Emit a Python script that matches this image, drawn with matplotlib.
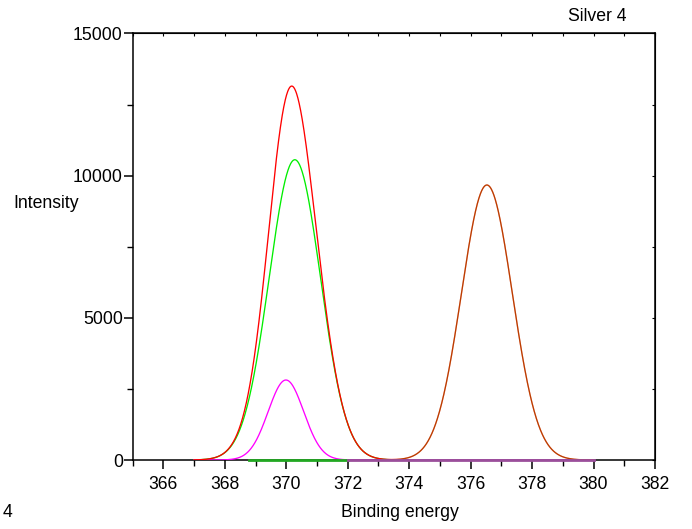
import numpy as np
import matplotlib
matplotlib.use("Agg")
import matplotlib.pyplot as plt
from matplotlib.ticker import MultipleLocator

plt.rcParams['font.family'] = ['Liberation Sans', 'DejaVu Sans']

# Fitted peak components
component_names = ["Ag 3d5/2 (main)", "Ag 3d5/2 (low BE)", "Ag 3d3/2"]
component_centers = [370.28, 369.99, 376.53]    # eV
component_heights = [10560, 2814, 9672]         # counts
component_fwhm = [1.97, 1.36, 1.95]             # eV
component_colors = ["#00ee00", "#ff00ff", "#00e600"]
energy_range = [367.0, 380.0]

x_ticks = [366, 368, 370, 372, 374, 376, 378, 380, 382]
y_ticks = [0, 5000, 10000, 15000]

energy = np.linspace(energy_range[0], energy_range[1], 1301)


def gauss(x, c, h, fwhm):
    s = fwhm / (2 * np.sqrt(2 * np.log(2)))
    return h * np.exp(-(x - c) ** 2 / (2 * s ** 2))


comps = [gauss(energy, c, h, w) for c, h, w in
         zip(component_centers, component_heights, component_fwhm)]
envelope = np.sum(comps, axis=0)

fig = plt.figure(figsize=(6.92, 5.29), dpi=100)
ax = fig.add_axes([0.1916, 0.1304, 0.9465 - 0.1916, 0.9367 - 0.1304])

lw = 0.95
# first-peak components
ax.plot(energy, comps[0], color=component_colors[0], lw=lw, zorder=4)
ax.plot(energy, comps[1], color=component_colors[1], lw=lw, zorder=4)
# envelope
ax.plot(energy, envelope, color="#ff0000", lw=lw, zorder=5)
# second-peak component overlapping envelope (mixes to brown-orange)
m3 = energy >= 373.0
ax.plot(energy[m3], comps[2][m3], color=component_colors[2], lw=lw, alpha=0.27, zorder=6)

# baselines
m1 = (energy >= 368.8) & (energy <= 372.0)
ax.plot(energy[m1], np.zeros(m1.sum()), color="#22a822", lw=2.0, clip_on=False, zorder=7)
m2 = (energy >= 372.0) & (energy <= 380.0)
ax.plot(energy[m2], np.zeros(m2.sum()), color="#9b4f9b", lw=2.0, clip_on=False, zorder=7)

ax.set_xlim(365, 382)
ax.set_ylim(0, 15000)
ax.set_xticks(x_ticks)
ax.set_yticks(y_ticks)
ax.xaxis.set_minor_locator(MultipleLocator(1))
ax.yaxis.set_minor_locator(MultipleLocator(2500))
ax.tick_params(axis='both', which='major', direction='out', length=6.5, width=1.1,
               labelsize=12.7, colors='black')
ax.tick_params(axis='both', which='minor', direction='out', length=4, width=1.0)
ax.tick_params(axis='x', which='major', pad=5)
ax.tick_params(axis='y', which='major', pad=0.5)
for s in ax.spines.values():
    s.set_linewidth(1.1)

secx = ax.secondary_xaxis('top')
secx.set_xticks(np.arange(365, 383, 1))
secx.tick_params(direction='in', length=2.5, width=0.8, labeltop=False)
secx.set_xticklabels([])
secy = ax.secondary_yaxis('right')
secy.set_yticks(np.arange(0, 15001, 2500))
secy.tick_params(direction='in', length=2.5, width=0.8, labelright=False)
secy.set_yticklabels([])

fig.text(0.863, 0.968, "Silver 4", ha='center', va='center', fontsize=12.7)
fig.text(0.019, 0.616, "Intensity", ha='left', va='center', fontsize=12.7)
fig.text(0.578, 0.032, "Binding energy", ha='center', va='center', fontsize=12.7)
fig.text(0.004, 0.032, "4", ha='left', va='center', fontsize=12.7)

fig.savefig("out.png", dpi=100)
